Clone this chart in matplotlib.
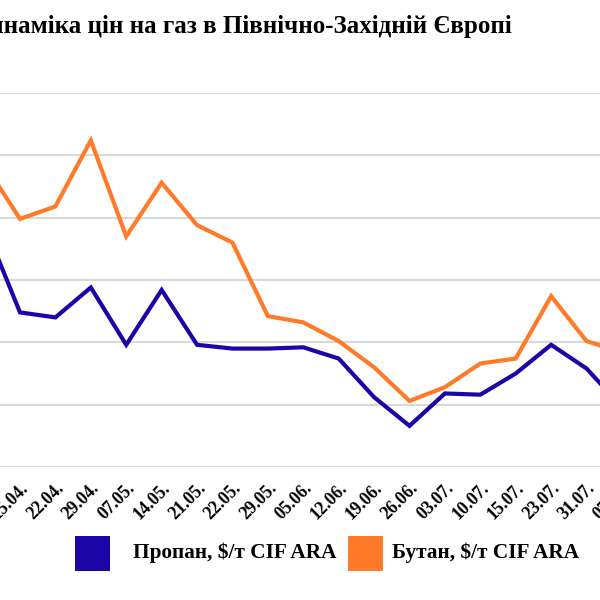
import matplotlib
matplotlib.use('Agg')
import matplotlib.pyplot as plt
from matplotlib.patches import Rectangle
from matplotlib.transforms import ScaledTranslation

dates = ['08.04.', '15.04.', '22.04.', '29.04.', '07.05.', '14.05.', '21.05.',
         '22.05.', '29.05.', '05.06.', '12.06.', '19.06.', '26.06.', '03.07.',
         '10.07.', '15.07.', '23.07.', '31.07.', '07.08.']
propane = [694, 624, 620, 644, 598, 642, 598, 595, 595, 596, 587, 556, 533,
           559, 558, 575, 598, 579, 548]
butane = [743, 699, 709, 762, 685, 728, 694, 680, 621, 616, 601, 580, 553,
          564, 583, 587, 637, 601, 592]
labels = ['Пропан, $/т CIF ARA', 'Бутан, $/т CIF ARA']

blue = '#1c05a6'
orange = '#ff7a29'
font = 'Liberation Serif'

fig = plt.figure(figsize=(6, 6), dpi=100)
# the picture is a crop: axes run past both edges of the figure
ax = fig.add_axes([0, 1 - 467 / 600, 1, 374 / 600])

x = list(range(len(dates)))
ax.plot(x, propane, color=blue, linewidth=3, solid_joinstyle='miter', zorder=3)
ax.plot(x, butane, color=orange, linewidth=3, solid_joinstyle='miter', zorder=3)

ax.set_xlim(0.435, 17.38)
ax.set_ylim(500, 800)
ax.set_yticks(range(500, 801, 50))
ax.grid(axis='y', color='#d9d9d9', linewidth=1.5)
ax.set_axisbelow(True)
for s in ax.spines.values():
    s.set_visible(False)
ax.tick_params(left=False, bottom=False, labelleft=False, labelbottom=False)

# rotated date labels
off = ax.get_xaxis_transform() + ScaledTranslation(6 / 100, -19 / 100, fig.dpi_scale_trans)
for i, d in enumerate(dates):
    ax.text(i, 0, d, transform=off, rotation=45, rotation_mode='anchor',
            ha='right', va='center', fontsize=12.8, fontweight='bold',
            family=font, clip_on=False)

fig.text(512 / 600, 1 - 26 / 600, 'Динаміка цін на газ в Північно-Західній Європі',
         ha='right', va='center', fontsize=18, fontweight='bold', family=font)

# legend, drawn by hand (the gaps are uneven in the original)
for col, lab, x0, tx in [(blue, labels[0], 75, 133), (orange, labels[1], 348, 392)]:
    fig.add_artist(Rectangle((x0 / 600, 1 - 571 / 600), 35 / 600, 35 / 600,
                             transform=fig.transFigure, facecolor=col, edgecolor='none'))
    fig.text(tx / 600, 1 - 553 / 600, lab, ha='left', va='center', fontsize=15.3,
             fontweight='bold', family=font)

fig.savefig('out.png', dpi=100)
